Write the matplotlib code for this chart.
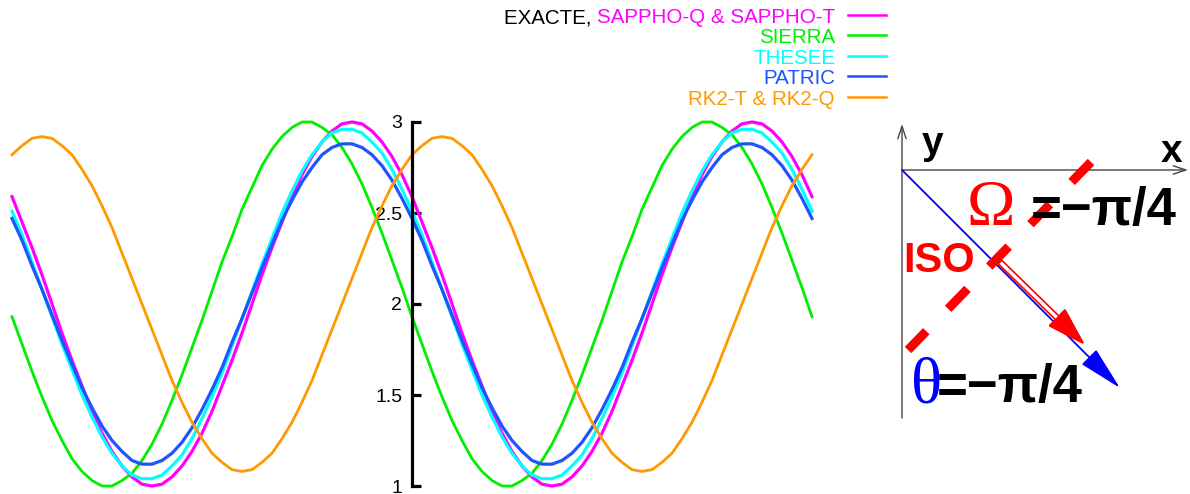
import matplotlib
matplotlib.use("Agg")
import matplotlib.pyplot as plt
import matplotlib.patches as mpatches
import numpy as np

plt.rcParams['font.family'] = ['Liberation Sans', 'DejaVu Sans']
plt.rcParams['lines.scale_dashes'] = False

# sample times (no ticks on this axis, arbitrary units), one every 0.1
t = [round(0.1 * i, 1) for i in range(81)]

# values
exacte = [2.59, 2.45, 2.31, 2.16, 2.00, 1.84, 1.69, 1.55, 1.41, 1.29,
          1.19, 1.11, 1.05, 1.01, 1.00, 1.01, 1.05, 1.11, 1.19, 1.29,
          1.41, 1.55, 1.69, 1.84, 2.00, 2.16, 2.31, 2.45, 2.59, 2.71,
          2.81, 2.89, 2.95, 2.99, 3.00, 2.99, 2.95, 2.89, 2.81, 2.71,
          2.59, 2.45, 2.31, 2.16, 2.00, 1.84, 1.69, 1.55, 1.41, 1.29,
          1.19, 1.11, 1.05, 1.01, 1.00, 1.01, 1.05, 1.11, 1.19, 1.29,
          1.41, 1.55, 1.69, 1.84, 2.00, 2.16, 2.31, 2.45, 2.59, 2.71,
          2.81, 2.89, 2.95, 2.99, 3.00, 2.99, 2.95, 2.89, 2.81, 2.71,
          2.59]
sierra = [1.93, 1.78, 1.63, 1.49, 1.36, 1.25, 1.15, 1.08, 1.03, 1.00,
          1.00, 1.03, 1.07, 1.14, 1.23, 1.34, 1.47, 1.61, 1.76, 1.91,
          2.07, 2.23, 2.37, 2.52, 2.64, 2.76, 2.85, 2.92, 2.97, 3.00,
          3.00, 2.97, 2.93, 2.86, 2.77, 2.66, 2.53, 2.39, 2.24, 2.09,
          1.93, 1.78, 1.63, 1.49, 1.36, 1.25, 1.15, 1.08, 1.03, 1.00,
          1.00, 1.03, 1.07, 1.14, 1.23, 1.34, 1.47, 1.61, 1.76, 1.91,
          2.07, 2.23, 2.37, 2.52, 2.64, 2.76, 2.85, 2.92, 2.97, 3.00,
          3.00, 2.97, 2.93, 2.86, 2.77, 2.66, 2.53, 2.39, 2.24, 2.09,
          1.93]
thesee = [2.51, 2.38, 2.23, 2.08, 1.93, 1.78, 1.64, 1.50, 1.38, 1.27,
          1.18, 1.11, 1.06, 1.04, 1.04, 1.06, 1.11, 1.17, 1.26, 1.37,
          1.49, 1.62, 1.77, 1.92, 2.07, 2.22, 2.36, 2.50, 2.62, 2.73,
          2.82, 2.89, 2.94, 2.96, 2.96, 2.94, 2.89, 2.83, 2.74, 2.63,
          2.51, 2.38, 2.23, 2.08, 1.93, 1.78, 1.64, 1.50, 1.38, 1.27,
          1.18, 1.11, 1.06, 1.04, 1.04, 1.06, 1.11, 1.17, 1.26, 1.37,
          1.49, 1.62, 1.77, 1.92, 2.07, 2.22, 2.36, 2.50, 2.62, 2.73,
          2.82, 2.89, 2.94, 2.96, 2.96, 2.94, 2.89, 2.83, 2.74, 2.63,
          2.51]
patric = [2.47, 2.35, 2.21, 2.08, 1.94, 1.80, 1.67, 1.54, 1.43, 1.33,
          1.25, 1.19, 1.14, 1.12, 1.12, 1.14, 1.18, 1.24, 1.32, 1.42,
          1.53, 1.65, 1.79, 1.92, 2.06, 2.20, 2.33, 2.46, 2.57, 2.67,
          2.75, 2.82, 2.86, 2.88, 2.88, 2.86, 2.82, 2.76, 2.68, 2.58,
          2.47, 2.35, 2.21, 2.08, 1.94, 1.80, 1.67, 1.54, 1.43, 1.33,
          1.25, 1.19, 1.14, 1.12, 1.12, 1.14, 1.18, 1.24, 1.32, 1.42,
          1.53, 1.65, 1.79, 1.92, 2.06, 2.20, 2.33, 2.46, 2.57, 2.67,
          2.75, 2.82, 2.86, 2.88, 2.88, 2.86, 2.82, 2.76, 2.68, 2.58,
          2.47]
rk2 = [2.82, 2.87, 2.91, 2.92, 2.91, 2.87, 2.82, 2.74, 2.65, 2.54,
       2.42, 2.28, 2.14, 2.00, 1.86, 1.72, 1.58, 1.46, 1.35, 1.26,
       1.18, 1.13, 1.09, 1.08, 1.09, 1.13, 1.18, 1.26, 1.35, 1.46,
       1.58, 1.72, 1.86, 2.00, 2.14, 2.28, 2.42, 2.54, 2.65, 2.74,
       2.82, 2.87, 2.91, 2.92, 2.91, 2.87, 2.82, 2.74, 2.65, 2.54,
       2.42, 2.28, 2.14, 2.00, 1.86, 1.72, 1.58, 1.46, 1.35, 1.26,
       1.18, 1.13, 1.09, 1.08, 1.09, 1.13, 1.18, 1.26, 1.35, 1.46,
       1.58, 1.72, 1.86, 2.00, 2.14, 2.28, 2.42, 2.54, 2.65, 2.74,
       2.82]

yticks = [1, 1.5, 2, 2.5, 3]
ytick_labels = ['1', '1.5', '2', '2.5', '3']

series = [exacte, sierra, thesee, patric, rk2]
colors = ['#ff00ff', '#00ee00', '#00ffff', '#1a55ff', '#ff9900']
widths = [2.3, 2.0, 2.3, 2.3, 2.0]
legend_names = ['SAPPHO-Q & SAPPHO-T', 'SIERRA', 'THESEE', 'PATRIC', 'RK2-T & RK2-Q']

W, H = 1190, 494
fig = plt.figure(figsize=(W / 100, H / 100), dpi=100)

# main plot, placed by pixel box
ax = fig.add_axes([12 / W, 8 / H, 800 / W, 364 / H])
ax.patch.set_visible(False)
for s, c, lw in zip(series, colors, widths):
    ax.plot(t, s, color=c, lw=lw, clip_on=False, zorder=3)
ax.set_xlim(0, 8)
ax.set_ylim(1, 3)
ax.set_xticks([])
ax.set_yticks(yticks)
ax.set_yticklabels(ytick_labels)
for side in ['top', 'right', 'bottom']:
    ax.spines[side].set_visible(False)
ax.spines['left'].set_position(('data', 4.0))
ax.spines['left'].set_bounds(1, 3)
ax.spines['left'].set_linewidth(2.3)
ax.spines['left'].set_zorder(4)
ax.tick_params(axis='y', direction='in', length=6.5, width=2.3, pad=7, labelsize=14)

# overlay in pixel coordinates for legend and sketch
ov = fig.add_axes([0, 0, 1, 1])
ov.set_xlim(0, W)
ov.set_ylim(H, 0)
ov.axis('off')
ov.patch.set_visible(False)

row_y = [15.5, 35.5, 56, 76.5, 97]
for name, c, y in zip(legend_names, colors, row_y):
    ov.text(835, y + 7.5, name, color=c, fontsize=14.8, ha='right', va='baseline')
    ov.plot([848, 886], [y, y], color=c, lw=1.8)
fig.canvas.draw()
first = ov.texts[0]
x0 = first.get_window_extent().x0
ov.text(x0, row_y[0] + 7.5, 'EXACTE, ', color='black', fontsize=14.8, ha='right', va='baseline')

# sketch: axes
ax_col = '#444444'
ov.annotate('', xy=(902, 124), xytext=(902, 418),
            arrowprops=dict(arrowstyle='->,head_length=0.9,head_width=0.3', color=ax_col, lw=1,
                            shrinkA=0, shrinkB=0))
ov.annotate('', xy=(1188, 170), xytext=(902, 170),
            arrowprops=dict(arrowstyle='->,head_length=0.9,head_width=0.3', color=ax_col, lw=1,
                            shrinkA=0, shrinkB=0))
ov.text(922, 154, 'y', fontsize=28, fontweight='bold', ha='left', va='baseline')
ov.text(1161, 162, 'x', fontsize=28, fontweight='bold', ha='left', va='baseline')

# blue direction arrow
ov.annotate('', xy=(1120, 388), xytext=(902, 170),
            arrowprops=dict(arrowstyle='-|>,head_length=2.8,head_width=0.65', color='blue', lw=1.3,
                            shrinkA=0, shrinkB=0))

# red hollow arrow
start = np.array([1000.0, 262.0])
tip = np.array([1083.0, 343.0])
d = tip - start
hl = 36
ov.add_patch(mpatches.FancyArrow(start[0], start[1], d[0], d[1], width=5, head_width=22,
                                 head_length=hl, length_includes_head=True,
                                 fc='white', ec='red', lw=1.2, zorder=3))
u = d / np.hypot(*d)
base = tip - u * hl
ov.add_patch(mpatches.FancyArrow(base[0], base[1], u[0] * hl, u[1] * hl, width=0.1, head_width=22,
                                 head_length=hl, length_includes_head=True,
                                 fc='red', ec='red', lw=1, zorder=3))

# ISO dashed line
iso, = ov.plot([1091, 908], [162, 350], color='red', lw=6.5, zorder=4,
               dash_capstyle='butt', solid_capstyle='butt')
iso.set_dashes((20, 22.5))

ov.text(903, 272, 'ISO', color='red', fontsize=30, fontweight='bold', ha='left', va='baseline', zorder=5)
ov.text(991, 225, 'Ω', color='red', fontsize=47, family='Liberation Serif', ha='center', va='baseline', zorder=5)
ov.text(1177, 225, '=−π/4', color='black', fontsize=38, fontweight='bold', ha='right', va='baseline', zorder=5)
ov.text(927, 402, 'θ', color='blue', fontsize=47, family='Liberation Serif', ha='center', va='baseline', zorder=5)
ov.text(1083, 402, '=−π/4', color='black', fontsize=38, fontweight='bold', ha='right', va='baseline', zorder=5)

fig.savefig('out.png', dpi=100)
